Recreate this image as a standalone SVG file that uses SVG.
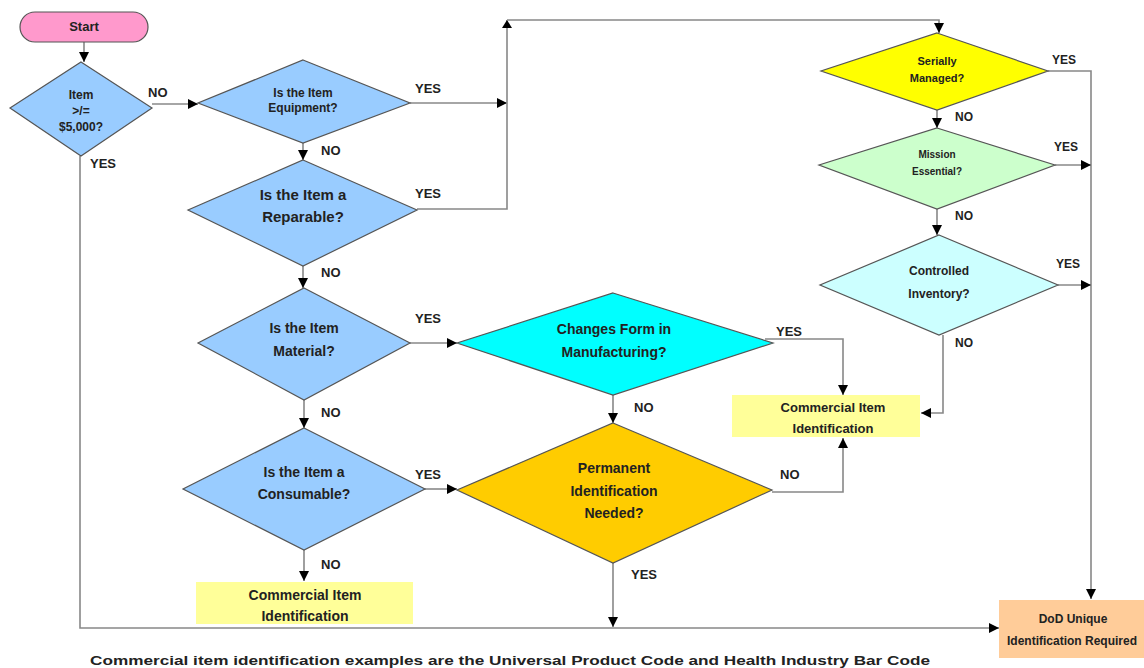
<svg xmlns="http://www.w3.org/2000/svg" width="1144" height="668" viewBox="0 0 1144 668">
<defs>
<marker id="ah" viewBox="0 0 10 10" refX="10" refY="5" markerWidth="10" markerHeight="10" markerUnits="userSpaceOnUse" orient="auto"><path d="M0,0 L10,5 L0,10 z" fill="#000"/></marker>
<style>
.d{stroke:#555;stroke-width:1.2}
.c{fill:none;stroke:#888;stroke-width:1.6}
.ca{fill:none;stroke:#888;stroke-width:1.6;marker-end:url(#ah)}
.t{font-family:"Liberation Sans",Arial,sans-serif;font-weight:bold;text-anchor:middle;fill:#222}
.l{font-family:"Liberation Sans",Arial,sans-serif;font-weight:bold;font-size:13px;fill:#222}
.n{font-family:"Liberation Sans",Arial,sans-serif;font-size:12px;fill:#222;font-weight:bold}
</style>
</defs>
<rect width="1144" height="668" fill="#fff"/>
<g id="connectors">
<line class="ca" x1="84" y1="42" x2="84" y2="62"/>
<line class="ca" x1="152" y1="104" x2="198" y2="104"/>
<line class="ca" x1="410" y1="103" x2="507" y2="103"/>
<polyline class="c" points="417,209 507,209 507,20"/>
<path d="M502,28 L507,20 L512,28 z" fill="#000"/>
<polyline class="ca" points="507,20 939,20 939,33"/>
<line class="ca" x1="303" y1="143" x2="303" y2="160"/>
<line class="ca" x1="303" y1="266" x2="303" y2="288"/>
<line class="ca" x1="410" y1="343" x2="457" y2="343"/>
<line class="ca" x1="304" y1="400" x2="304" y2="428"/>
<line class="ca" x1="425" y1="489" x2="457" y2="489"/>
<line class="ca" x1="304" y1="550" x2="304" y2="581"/>
<line class="ca" x1="613" y1="395" x2="613" y2="423"/>
<polyline class="ca" points="765,339 843,339 843,395"/>
<polyline class="ca" points="772,492 843,492 843,438"/>
<line class="ca" x1="613" y1="563" x2="613" y2="627"/>
<polyline class="ca" points="80,156 80,628 999,628"/>
<line class="ca" x1="937" y1="110" x2="937" y2="128"/>
<line class="ca" x1="937" y1="209" x2="937" y2="235"/>
<polyline class="ca" points="943,335 943,413 921,413"/>
<polyline class="ca" points="1048,71 1091,71 1091,599"/>
<line class="ca" x1="1055" y1="165" x2="1091" y2="165"/>
<line class="ca" x1="1058" y1="285" x2="1091" y2="285"/>
</g>
<g id="labels">
<text class="l" x="148" y="97">NO</text>
<text class="l" x="90" y="168">YES</text>
<text class="l" x="415" y="93">YES</text>
<text class="l" x="321" y="155">NO</text>
<text class="l" x="415" y="198" font-size="15">YES</text>
<text class="l" x="321" y="277">NO</text>
<text class="l" x="415" y="323">YES</text>
<text class="l" x="321" y="417">NO</text>
<text class="l" x="415" y="479">YES</text>
<text class="l" x="321" y="569">NO</text>
<text class="l" x="776" y="336">YES</text>
<text class="l" x="634" y="412">NO</text>
<text class="l" x="780" y="479">NO</text>
<text class="l" x="631" y="579">YES</text>
<text class="n" x="1052" y="64">YES</text>
<text class="n" x="955" y="121">NO</text>
<text class="n" x="1054" y="151">YES</text>
<text class="n" x="955" y="220">NO</text>
<text class="n" x="1056" y="268">YES</text>
<text class="n" x="955" y="347">NO</text>
</g>
<g id="start"><rect x="20" y="12" width="128" height="30" rx="15" fill="#FF99CC" class="d"/><text class="t" x="84" y="31" font-size="13">Start</text></g>
<g id="item"><polygon points="81,62 152,108 81,156 10,108" fill="#99CCFF" class="d"/><text class="t" x="81" y="99" font-size="12">Item</text><text class="t" x="81" y="115" font-size="12">&gt;/=</text><text class="t" x="81" y="131" font-size="12">$5,000?</text></g>
<g id="equipment"><polygon points="303,60 410,103 303,143 198,103" fill="#99CCFF" class="d"/><text class="t" x="303" y="97" font-size="12">Is the Item</text><text class="t" x="303" y="112" font-size="12">Equipment?</text></g>
<g id="reparable"><polygon points="303,160 417,210 303,266 188,210" fill="#99CCFF" class="d"/><text class="t" x="303" y="200" font-size="15">Is the Item a</text><text class="t" x="303" y="222" font-size="15">Reparable?</text></g>
<g id="material"><polygon points="304,288 410,343 304,400 198,343" fill="#99CCFF" class="d"/><text class="t" x="304" y="333" font-size="14">Is the Item</text><text class="t" x="304" y="356" font-size="14">Material?</text></g>
<g id="consumable"><polygon points="304,428 425,489 304,550 183,489" fill="#99CCFF" class="d"/><text class="t" x="304" y="477" font-size="14">Is the Item a</text><text class="t" x="304" y="499" font-size="14">Consumable?</text></g>
<g id="commercial1"><rect x="196" y="582" width="217" height="42" fill="#FFFF99"/><text class="t" x="305" y="600" font-size="14">Commercial Item</text><text class="t" x="305" y="621" font-size="14">Identification</text></g>
<g id="changes"><polygon points="613,293 773,343 613,395 457,343" fill="#00FFFF" class="d"/><text class="t" x="614" y="334" font-size="14" fill="#1a2a3a">Changes Form in</text><text class="t" x="614" y="357" font-size="14">Manufacturing?</text></g>
<g id="permanent"><polygon points="613,423 772,490 613,563 457,490" fill="#FFCC00" class="d"/><text class="t" x="614" y="473" font-size="14">Permanent</text><text class="t" x="614" y="496" font-size="14">Identification</text><text class="t" x="614" y="518" font-size="14">Needed?</text></g>
<g id="commercial2"><rect x="732" y="395" width="188" height="42" fill="#FFFF99"/><text class="t" x="833" y="412" font-size="13">Commercial Item</text><text class="t" x="833" y="433" font-size="13">Identification</text></g>
<g id="serially"><polygon points="937,33 1048,71 937,110 821,71" fill="#FFFF00" class="d"/><text class="t" x="937" y="65" font-size="11">Serially</text><text class="t" x="937" y="82" font-size="11">Managed?</text></g>
<g id="mission"><polygon points="937,128 1055,165 937,209 819,165" fill="#CCFFCC" class="d"/><text class="t" x="937" y="158" font-size="10">Mission</text><text class="t" x="937" y="175" font-size="10" font-weight="normal">Essential?</text></g>
<g id="controlled"><polygon points="939,235 1058,285 939,335 820,285" fill="#CCFFFF" class="d"/><text class="t" x="939" y="275" font-size="12" font-weight="normal">Controlled</text><text class="t" x="939" y="298" font-size="12" font-weight="normal">Inventory?</text></g>
<g id="dod"><rect x="999" y="600" width="150" height="58" fill="#FFCC99"/><text class="t" x="1073" y="623" font-size="12">DoD Unique</text><text class="t" x="1072" y="645" font-size="12">Identification Required</text></g>
<text class="t" x="510" y="665" font-size="13" textLength="840" lengthAdjust="spacingAndGlyphs">Commercial item identification examples are the Universal Product Code and Health Industry Bar Code</text>
</svg>
